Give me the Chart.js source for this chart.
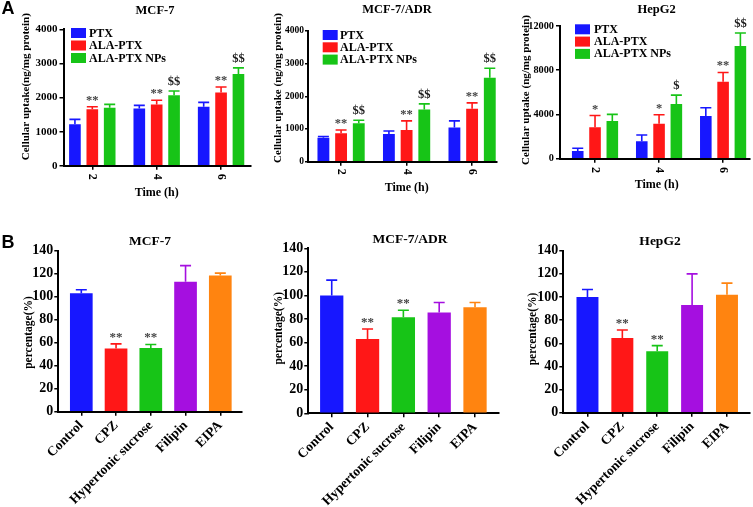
<!DOCTYPE html>
<html><head><meta charset="utf-8">
<script src="https://cdn.jsdelivr.net/npm/chart.js@4.4.1/dist/chart.umd.min.js"></script>
<style>
html,body{margin:0;padding:0;background:#fff;}
#wrap{position:relative;width:753px;height:507px;overflow:hidden;background:#fff;}
#wrap canvas{position:absolute;left:0;top:0;}
</style></head><body>
<div id="wrap">
<canvas id="a1" width="753" height="507"></canvas>
<canvas id="a2" width="753" height="507"></canvas>
<canvas id="a3" width="753" height="507"></canvas>
<canvas id="b1" width="753" height="507"></canvas>
<canvas id="b2" width="753" height="507"></canvas>
<canvas id="b3" width="753" height="507"></canvas>
</div>
<script>
// ---------- DATA ----------
const timeHours = [2, 4, 6];
const uptakeSeries = ['PTX', 'ALA-PTX', 'ALA-PTX NPs'];
const uptakeTicks = [0, 1000, 2000, 3000, 4000];
const hepUptakeTicks = [0, 4000, 8000, 12000];

const mcf7Ptx = [1220, 1680, 1730];
const mcf7PtxErr = [140, 90, 130];
const mcf7Ala = [1660, 1800, 2150];
const mcf7AlaErr = [70, 120, 160];
const mcf7Nps = [1700, 2070, 2690];
const mcf7NpsErr = [100, 120, 180];
const mcf7PtxSig = ['', '', ''];
const mcf7AlaSig = ['**', '**', '**'];
const mcf7NpsSig = ['', '$$', '$$'];

const adrPtx = [730, 850, 1050];
const adrPtxErr = [40, 90, 200];
const adrAla = [870, 970, 1620];
const adrAlaErr = [100, 280, 180];
const adrNps = [1180, 1600, 2570];
const adrNpsErr = [90, 170, 290];
const adrPtxSig = ['', '', ''];
const adrAlaSig = ['**', '**', '**'];
const adrNpsSig = ['$$', '$$', '$$'];

const hepPtx = [690, 1570, 3860];
const hepPtxErr = [250, 570, 750];
const hepAla = [2840, 3170, 6960];
const hepAlaErr = [1060, 810, 840];
const hepNps = [3420, 4940, 10190];
const hepNpsErr = [590, 810, 1180];
const hepPtxSig = ['', '', ''];
const hepAlaSig = ['*', '*', '**'];
const hepNpsSig = ['', '$', '$$'];

const inhibitors = ['Control', 'CPZ', 'Hypertonic sucrose', 'Filipin', 'EIPA'];
const pctTicks = [0, 20, 40, 60, 80, 100, 120, 140];
const mcf7Pct = [103, 55, 55.5, 113, 118.5];
const mcf7PctErr = [3, 4, 3, 14, 2];
const mcf7PctSig = ['', '**', '**', '', ''];
const adrPct = [100, 63, 81.5, 85.5, 90];
const adrPctErr = [13, 8.5, 6, 8.5, 4];
const adrPctSig = ['', '**', '**', '', ''];
const hepPct = [100, 64.5, 53, 93, 102];
const hepPctErr = [6.5, 7, 5, 27, 10];
const hepPctSig = ['', '**', '**', '', ''];

// ---------- STYLE ----------
const uptakeColors = ['#1717ff', '#ff1717', '#17c417'];
const inhibitorColors = ['#1717ff', '#ff1717', '#17c417', '#a50fe0', '#ff8410'];
const SERIF = '"Liberation Serif","Times New Roman",serif';
const SANS = '"Liberation Sans",Arial,sans-serif';
Chart.defaults.font.family = SERIF;
Chart.defaults.font.weight = 'bold';
Chart.defaults.color = '#000';

const PAGE_W = 753, PAGE_H = 507, Y_W = 40;

const decor = {
  id: 'decor',
  afterDatasetsDraw(chart, args, o) {
    const ctx = chart.ctx, ys = chart.scales.y, xs = chart.scales.x;
    ctx.save();
    chart.data.datasets.forEach((ds, di) => {
      const meta = chart.getDatasetMeta(di);
      meta.data.forEach((bar, i) => {
        const v = ds.data[i].y, e = ds.errors[i];
        const col = Array.isArray(ds.backgroundColor) ? ds.backgroundColor[i] : ds.backgroundColor;
        const yTop = ys.getPixelForValue(v + e), yBar = ys.getPixelForValue(v);
        ctx.strokeStyle = col; ctx.lineWidth = 1.6;
        ctx.beginPath();
        ctx.moveTo(bar.x, yBar); ctx.lineTo(bar.x, yTop);
        ctx.moveTo(bar.x - o.cap / 2, yTop); ctx.lineTo(bar.x + o.cap / 2, yTop);
        ctx.stroke();
        const s = ds.sig ? ds.sig[i] : '';
        if (s) {
          const dollar = s.indexOf('$') >= 0;
          ctx.fillStyle = dollar ? '#1a1a1a' : '#444';
          ctx.font = 'bold ' + o.sigSize + 'px ' + SERIF;
          ctx.textAlign = 'center'; ctx.textBaseline = 'alphabetic';
          ctx.fillText(s, bar.x, yTop - (dollar ? 6 : 3));
        }
      });
    });
    ctx.fillStyle = '#000';
    if (o.title) {
      ctx.font = 'bold ' + o.title.size + 'px ' + SERIF;
      ctx.textAlign = 'center'; ctx.textBaseline = 'middle';
      ctx.fillText(o.title.text, o.title.x, o.title.y);
    }
    if (o.yTitle) {
      ctx.save();
      ctx.translate(o.yTitle.x, o.yTitle.y); ctx.rotate(-Math.PI / 2);
      ctx.font = 'bold ' + o.yTitle.size + 'px ' + SERIF;
      ctx.textAlign = 'center'; ctx.textBaseline = 'middle';
      ctx.fillText(o.yTitle.text, 0, 0);
      ctx.restore();
    }
    if (o.xTitle) {
      ctx.font = 'bold ' + o.xTitle.size + 'px ' + SERIF;
      ctx.textAlign = 'center'; ctx.textBaseline = 'middle';
      ctx.fillText(o.xTitle.text, o.xTitle.x, o.xTitle.y);
    }
    if (o.rotTicks) {
      ctx.font = 'bold ' + o.rotTicks.size + 'px ' + SERIF;
      o.rotTicks.values.forEach(v => {
        ctx.save();
        ctx.translate(xs.getPixelForValue(v), o.rotTicks.y);
        ctx.rotate(Math.PI / 2);
        ctx.textAlign = 'center'; ctx.textBaseline = 'middle';
        ctx.fillText(String(v), 0, 0);
        ctx.restore();
      });
    }
    if (o.legend) {
      const L = o.legend;
      ctx.font = 'bold ' + L.size + 'px ' + SERIF;
      ctx.textAlign = 'left'; ctx.textBaseline = 'middle';
      chart.data.datasets.forEach((ds, k) => {
        const cy = L.y + k * L.dy;
        ctx.fillStyle = ds.backgroundColor;
        ctx.fillRect(L.x, cy - 5, 15, 10);
        ctx.fillStyle = '#000';
        ctx.fillText(ds.label, L.textX, cy + 0.5);
      });
    }
    if (o.letter) {
      ctx.font = 'bold 18px ' + SANS;
      ctx.textAlign = 'left'; ctx.textBaseline = 'alphabetic';
      ctx.fillStyle = '#000';
      ctx.fillText(o.letter.text, o.letter.x, o.letter.y);
    }
    ctx.restore();
  }
};

function makePanel(id, p) {
  new Chart(document.getElementById(id), {
    type: 'bar',
    data: { datasets: p.datasets },
    options: {
      responsive: false, animation: false, events: [],
      layout: { autoPadding: false, padding: {
        left: p.left - Y_W, right: PAGE_W - p.right, top: p.top, bottom: PAGE_H - p.bottom - p.xH } },
      plugins: { legend: { display: false }, tooltip: { enabled: false }, decor: p.decor },
      scales: {
        x: {
          type: 'linear', min: p.xMin, max: p.xMax, offset: false,
          afterFit: s => { s.height = p.xH; },
          afterBuildTicks: s => { s.ticks = p.xTicks.map(v => ({ value: v })); },
          grid: { offset: false, drawOnChartArea: false, drawTicks: true, tickLength: 4, color: '#000', lineWidth: 1.5 },
          border: { display: true, color: '#000', width: 2 },
          ticks: p.xTickOpts
        },
        y: {
          min: 0, max: p.yMax,
          afterFit: s => { s.width = Y_W; },
          afterBuildTicks: s => { s.ticks = p.yTicks.map(v => ({ value: v })); },
          grid: { drawOnChartArea: false, drawTicks: true, tickLength: p.yTickLen, color: '#000', lineWidth: 1.5 },
          border: { display: true, color: '#000', width: 2 },
          ticks: { callback: v => String(v), font: { size: p.yTickSize, weight: 'bold' }, color: '#000', padding: p.yTickPad }
        }
      }
    },
    plugins: [decor]
  });
}

function uptakeSets(vals, errs, sigs) {
  return uptakeSeries.map((name, k) => ({
    label: name,
    data: timeHours.map((t, i) => ({ x: t, y: vals[k][i] })),
    errors: errs[k], sig: sigs[k],
    backgroundColor: uptakeColors[k],
    categoryPercentage: 0.81, barPercentage: 0.67
  }));
}
function inhibSet(vals, errs, sigs, frac) {
  return [{
    label: 'percentage',
    data: inhibitors.map((c, i) => ({ x: i, y: vals[i] })),
    errors: errs, sig: sigs,
    backgroundColor: inhibitorColors,
    categoryPercentage: 1, barPercentage: frac
  }];
}
const hiddenTicks = { display: false };
const catTicks = { autoSkip: false, minRotation: 45, maxRotation: 45, padding: 2,
  font: { size: 13.5, weight: 'bold' }, color: '#000', callback: v => inhibitors[v] };

// ---- A panels ----
makePanel('a1', {
  datasets: uptakeSets([mcf7Ptx, mcf7Ala, mcf7Nps], [mcf7PtxErr, mcf7AlaErr, mcf7NpsErr], [mcf7PtxSig, mcf7AlaSig, mcf7NpsSig]),
  left: 63.5, right: 251, top: 29.3, bottom: 165.8, xMin: 1.105, xMax: 6.93, xH: 20,
  xTicks: timeHours, yTicks: uptakeTicks, yMax: 4000, yTickSize: 11, yTickPad: 2, yTickLen: 4, xTickOpts: hiddenTicks,
  decor: { cap: 11, sigSize: 12.5,
    title: { text: 'MCF-7', x: 155, y: 10.5, size: 12.5 },
    yTitle: { text: 'Cellular uptake(ng/mg protein)', x: 26, y: 86.7, size: 11 },
    xTitle: { text: 'Time (h)', x: 156.7, y: 192.7, size: 12 },
    rotTicks: { values: timeHours, y: 176.7, size: 12 },
    legend: { x: 71, y: 33, dy: 12.5, textX: 89, size: 12 },
    letter: { text: 'A', x: 1.5, y: 14 } }
});
makePanel('a2', {
  datasets: uptakeSets([adrPtx, adrAla, adrNps], [adrPtxErr, adrAlaErr, adrNpsErr], [adrPtxSig, adrAlaSig, adrNpsSig]),
  left: 308, right: 497, top: 31, bottom: 161.7, xMin: 0.99, xMax: 6.76, xH: 20,
  xTicks: timeHours, yTicks: uptakeTicks, yMax: 4000, yTickSize: 9.5, yTickPad: 1, yTickLen: 3, xTickOpts: hiddenTicks,
  decor: { cap: 11, sigSize: 12.5,
    title: { text: 'MCF-7/ADR', x: 397, y: 9.5, size: 12.5 },
    yTitle: { text: 'Cellular uptake (ng/mg protein)', x: 278.5, y: 88, size: 11 },
    xTitle: { text: 'Time (h)', x: 406.7, y: 188.3, size: 12 },
    rotTicks: { values: timeHours, y: 171.7, size: 12 },
    legend: { x: 322.7, y: 35, dy: 12.3, textX: 340, size: 12 } }
});
makePanel('a3', {
  datasets: uptakeSets([hepPtx, hepAla, hepNps], [hepPtxErr, hepAlaErr, hepNpsErr], [hepPtxSig, hepAlaSig, hepNpsSig]),
  left: 560, right: 750, top: 26, bottom: 158.7, xMin: 0.906, xMax: 6.84, xH: 20,
  xTicks: timeHours, yTicks: hepUptakeTicks, yMax: 12000, yTickSize: 10.3, yTickPad: 2, yTickLen: 4, xTickOpts: hiddenTicks,
  decor: { cap: 11, sigSize: 12.5,
    title: { text: 'HepG2', x: 656.7, y: 9.5, size: 12.5 },
    yTitle: { text: 'Cellular uptake (ng/mg protein)', x: 526, y: 90, size: 11 },
    xTitle: { text: 'Time (h)', x: 656.7, y: 185, size: 12 },
    rotTicks: { values: timeHours, y: 170, size: 12 },
    legend: { x: 575, y: 29.3, dy: 12.3, textX: 594, size: 12 } }
});

// ---- B panels ----
makePanel('b1', {
  datasets: inhibSet(mcf7Pct, mcf7PctErr, mcf7PctSig, 0.653),
  left: 58.3, right: 241.7, top: 250.7, bottom: 411.7, xMin: -0.662, xMax: 4.616, xH: 93,
  xTicks: [0, 1, 2, 3, 4], yTicks: pctTicks, yMax: 140, yTickSize: 14, yTickPad: 1, yTickLen: 4, xTickOpts: catTicks,
  decor: { cap: 11, sigSize: 13,
    title: { text: 'MCF-7', x: 150, y: 241.7, size: 13.5 },
    yTitle: { text: 'percentage(%)', x: 29, y: 332.5, size: 11.5 },
    letter: { text: 'B', x: 1.5, y: 247.5 } }
});
makePanel('b2', {
  datasets: inhibSet(adrPct, adrPctErr, adrPctSig, 0.65),
  left: 308.3, right: 498.3, top: 248.3, bottom: 413.3, xMin: -0.654, xMax: 4.65, xH: 92,
  xTicks: [0, 1, 2, 3, 4], yTicks: pctTicks, yMax: 140, yTickSize: 14, yTickPad: 1, yTickLen: 4, xTickOpts: catTicks,
  decor: { cap: 11, sigSize: 13,
    title: { text: 'MCF-7/ADR', x: 410, y: 240, size: 13.5 },
    yTitle: { text: 'percentage(%)', x: 279, y: 328.3, size: 11.5 } }
});
makePanel('b3', {
  datasets: inhibSet(hepPct, hepPctErr, hepPctSig, 0.63),
  left: 563.3, right: 750, top: 250.7, bottom: 412.7, xMin: -0.693, xMax: 4.66, xH: 93,
  xTicks: [0, 1, 2, 3, 4], yTicks: pctTicks, yMax: 140, yTickSize: 14, yTickPad: 1, yTickLen: 4, xTickOpts: catTicks,
  decor: { cap: 11, sigSize: 13,
    title: { text: 'HepG2', x: 660, y: 241.7, size: 13.5 },
    yTitle: { text: 'percentage(%)', x: 533, y: 329, size: 11.5 } }
});
</script>
</body></html>
